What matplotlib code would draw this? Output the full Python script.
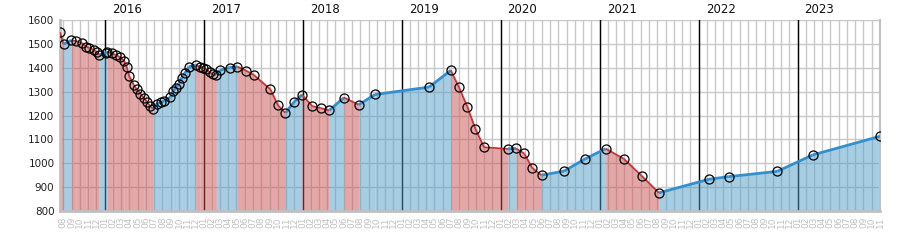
import matplotlib
matplotlib.use("Agg")
import matplotlib.pyplot as plt
import matplotlib.dates as mdates
import matplotlib.transforms as mtransforms
import numpy as np

dates = [
    "2015-07-20", "2015-08-02", "2015-08-30", "2015-09-17", "2015-10-08",
    "2015-10-23", "2015-11-04", "2015-11-23", "2015-12-02", "2015-12-11",
    "2016-01-05", "2016-01-09", "2016-01-28", "2016-02-13", "2016-02-28",
    "2016-03-12", "2016-03-22", "2016-03-31", "2016-04-17", "2016-04-28",
    "2016-05-12", "2016-05-24", "2016-06-05", "2016-06-16", "2016-06-27",
    "2016-07-13", "2016-07-26", "2016-08-08", "2016-08-30", "2016-09-09",
    "2016-09-19", "2016-10-01", "2016-10-12", "2016-10-22", "2016-11-07",
    "2016-12-02", "2016-12-17", "2016-12-29", "2017-01-10", "2017-01-22",
    "2017-02-04", "2017-02-16", "2017-03-01", "2017-04-06", "2017-05-05",
    "2017-06-05", "2017-07-04", "2017-09-03", "2017-10-02", "2017-10-29",
    "2017-11-29", "2017-12-29", "2018-02-05", "2018-03-08", "2018-04-08",
    "2018-06-02", "2018-07-26", "2018-09-25", "2019-04-12", "2019-07-01",
    "2019-07-31", "2019-08-31", "2019-09-30", "2019-11-01", "2020-01-28",
    "2020-02-27", "2020-03-28", "2020-04-27", "2020-05-31", "2020-08-22",
    "2020-11-09", "2021-01-23", "2021-03-30", "2021-06-04", "2021-08-07",
    "2022-02-08", "2022-04-22", "2022-10-18", "2023-02-26", "2023-11-01",
]
values = [
    1549, 1499, 1515, 1512, 1504,
    1489, 1484, 1474, 1464, 1454,
    1462, 1467, 1460, 1453, 1443,
    1430, 1404, 1366, 1329, 1310,
    1292, 1275, 1257, 1240, 1229,
    1250, 1257, 1260, 1277, 1301,
    1317, 1333, 1359, 1376, 1404,
    1411, 1404, 1400, 1394, 1381,
    1373, 1371, 1389, 1401, 1405,
    1388, 1370, 1310, 1242, 1211,
    1256, 1287, 1239, 1231, 1221,
    1275, 1245, 1288, 1319, 1389,
    1319, 1237, 1144, 1067, 1060,
    1062, 1041, 980, 950, 967,
    1019, 1061, 1019, 948, 876,
    933, 944, 966, 1035, 1113,
]
years = [2016, 2017, 2018, 2019, 2020, 2021, 2022, 2023]

red_line = "#cc3333"
blue_line = "#3390cc"
red_fill = (201 / 255, 81 / 255, 81 / 255)
blue_fill = (81 / 255, 157 / 255, 201 / 255)

d = mdates.date2num(np.array(dates, dtype="datetime64[D]"))
v = np.array(values, dtype=float)

fig = plt.figure(figsize=(9, 2.5), dpi=100)
ax = fig.add_axes([60 / 900, 1 - 211 / 250, 820 / 900, 191 / 250])

# coloured area under each segment: red if falling, blue if rising
for i in range(len(d) - 1):
    down = v[i + 1] < v[i]
    ax.fill_between([d[i], d[i + 1]], [v[i], v[i + 1]], 800,
                    color=red_fill if down else blue_fill, alpha=0.5,
                    lw=0, zorder=2)
for i in range(len(d) - 1):
    down = v[i + 1] < v[i]
    ax.plot([d[i], d[i + 1]], [v[i], v[i + 1]],
            color=red_line if down else blue_line,
            lw=1.3 if down else 2, zorder=3, solid_capstyle="butt")

ax.plot(d, v, ls="none", marker="o", ms=6.5, mfc="none", mec="black",
        mew=0.9, zorder=4)

# year lines and labels
trans = mtransforms.blended_transform_factory(ax.transData, ax.transAxes)
for y in years:
    yd = mdates.date2num(np.datetime64(f"{y}-01-01"))
    ax.axvline(yd, color="black", lw=1, zorder=1)
    ax.annotate(str(y), (yd, 1), xycoords=trans, xytext=(5, 3),
                textcoords="offset points", ha="left", va="bottom",
                fontsize=8.5, color="#111111")

ax.set_xlim(d[0], d[-1])
ax.set_ylim(800, 1600)
ax.set_yticks(range(800, 1601, 100))
ax.xaxis.set_major_locator(mdates.MonthLocator())
ax.xaxis.set_major_formatter(mdates.DateFormatter("%m"))
ax.tick_params(axis="x", length=0, pad=4, labelsize=6.5, labelcolor="#c0c0c0",
               labelrotation=90)
ax.tick_params(axis="y", length=0, pad=4, labelsize=7.5, labelcolor="#222222")

ax.grid(True, color="#c8c8c8", lw=1)
ax.set_axisbelow(True)

for s in ["left", "bottom"]:
    ax.spines[s].set_color("#c0c0c0")
    ax.spines[s].set_linewidth(2)
ax.spines["right"].set_color("#c0c0c0")
ax.spines["right"].set_linewidth(1.5)
ax.spines["top"].set_visible(False)

fig.savefig("out.png", dpi=100)
